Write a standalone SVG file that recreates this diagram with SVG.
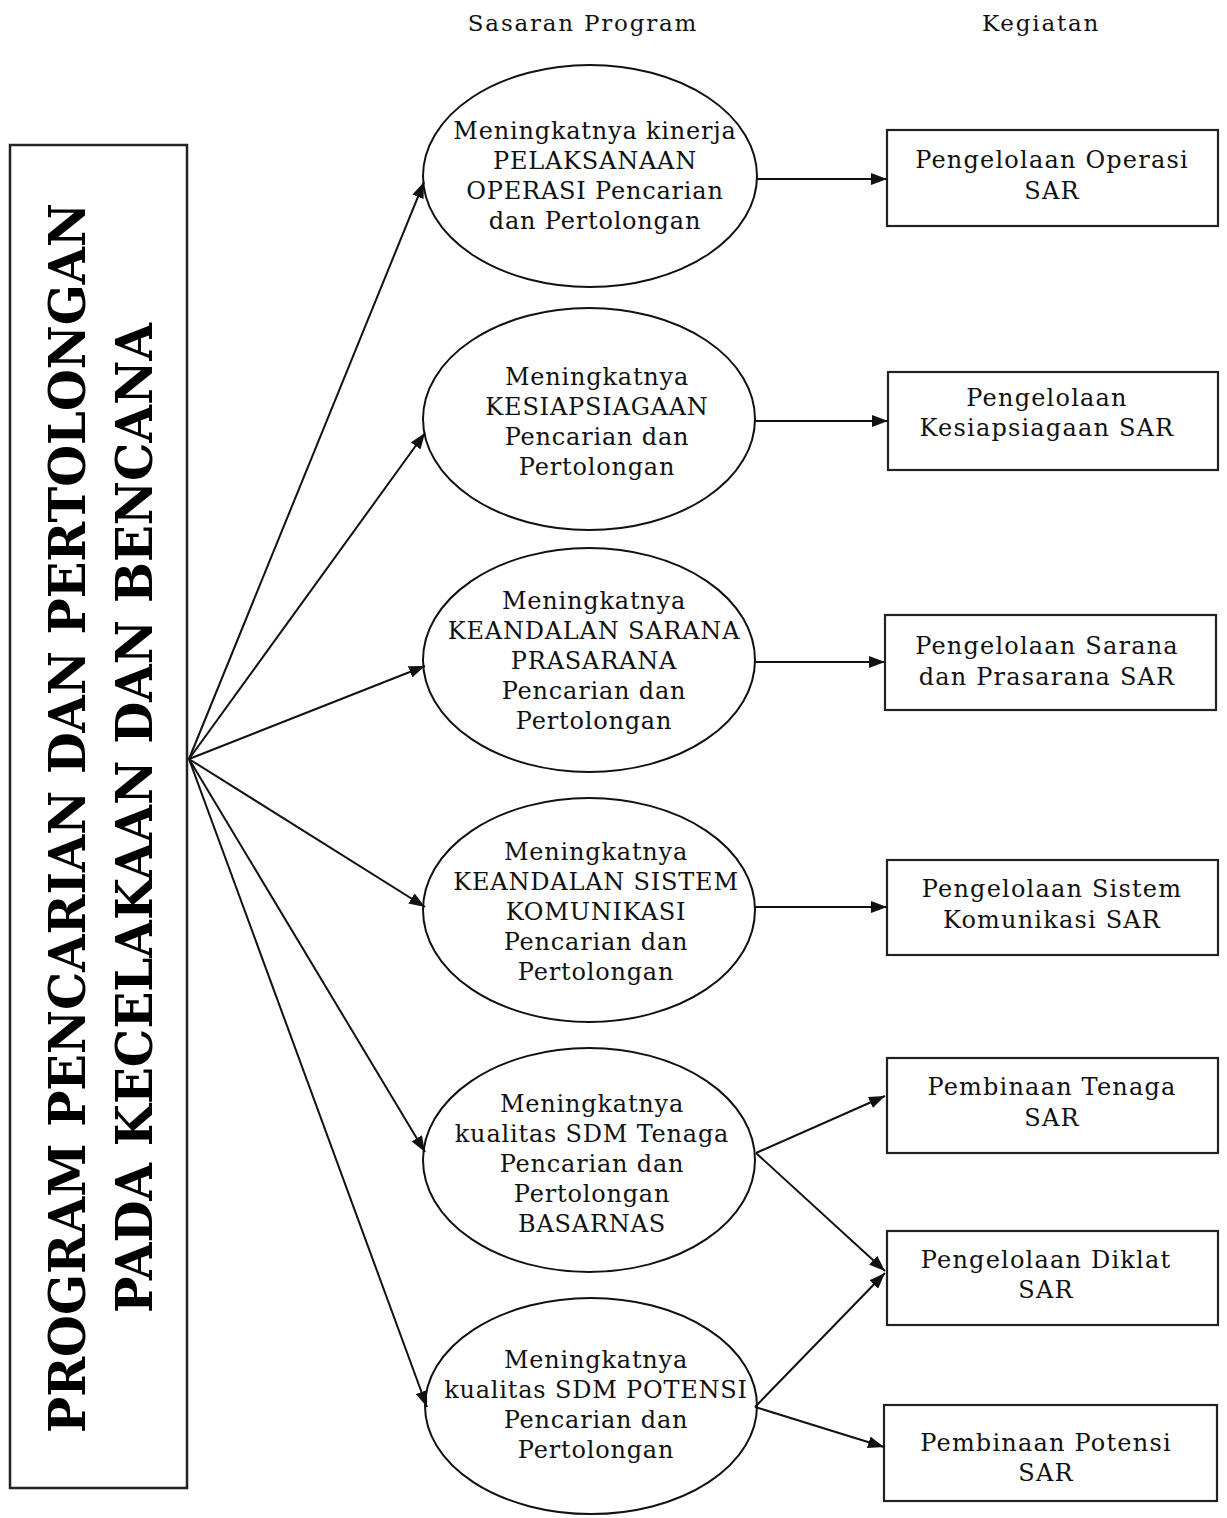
<svg xmlns="http://www.w3.org/2000/svg" width="1227" height="1518" viewBox="0 0 1227 1518">
  <style>
    .bg { fill: #ffffff; }
    .frame { fill: #ffffff; stroke: #222222; stroke-width: 2.5; }
    .goal { fill: #ffffff; stroke: #111111; stroke-width: 2; }
    .act { fill: #ffffff; stroke: #222222; stroke-width: 2.2; }
    .edge { fill: none; stroke: #111111; stroke-width: 2; marker-end: url(#arrow); }
    .head { font-family: "DejaVu Serif", "Liberation Serif", serif; font-size: 23px; letter-spacing: 1.8px; fill: #111111; text-anchor: middle; }
    .title { font-family: "DejaVu Serif", "Liberation Serif", serif; font-size: 51px; font-weight: bold; fill: #000000; text-anchor: middle; }
    .lbl { font-family: "DejaVu Serif", "Liberation Serif", serif; font-size: 24px; letter-spacing: 0.8px; fill: #111111; text-anchor: middle; }
    .lbl2 { font-family: "DejaVu Serif", "Liberation Serif", serif; font-size: 24px; letter-spacing: 1.2px; fill: #111111; text-anchor: middle; }
  </style>
  <defs>
    <marker id="arrow" markerUnits="userSpaceOnUse" markerWidth="16" markerHeight="12" refX="16" refY="6" orient="auto">
      <path d="M0,0 L16,6 L0,12 z" fill="#111111"/>
    </marker>
  </defs>

  <rect class="bg" x="0" y="0" width="1227" height="1518"/>

  <!-- column headings -->
  <g id="headings">
    <text class="head" x="583" y="31">Sasaran Program</text>
    <text class="head" x="1041" y="31">Kegiatan</text>
  </g>

  <!-- program box with vertical title -->
  <g id="program">
    <rect class="frame" x="10" y="145" width="177" height="1343"/>
    <text class="title" transform="translate(85,818) rotate(-90)" x="0" y="0" textLength="1230" lengthAdjust="spacingAndGlyphs">PROGRAM PENCARIAN DAN PERTOLONGAN</text>
    <text class="title" transform="translate(152,818) rotate(-90)" x="0" y="0" textLength="990" lengthAdjust="spacingAndGlyphs">PADA KECELAKAAN DAN BENCANA</text>
  </g>

  <!-- program targets -->
  <g id="goal-operasi">
    <ellipse class="goal" cx="590" cy="176" rx="167" ry="111"/>
    <text class="lbl"><tspan x="595" y="139">Meningkatnya kinerja</tspan><tspan x="595" y="169">PELAKSANAAN</tspan><tspan x="595" y="199">OPERASI Pencarian</tspan><tspan x="595" y="229">dan Pertolongan</tspan></text>
  </g>
  <g id="goal-kesiapsiagaan">
    <ellipse class="goal" cx="589" cy="419" rx="166" ry="111"/>
    <text class="lbl"><tspan x="597" y="385">Meningkatnya</tspan><tspan x="597" y="415">KESIAPSIAGAAN</tspan><tspan x="597" y="445">Pencarian dan</tspan><tspan x="597" y="475">Pertolongan</tspan></text>
  </g>
  <g id="goal-sarana">
    <ellipse class="goal" cx="589" cy="660" rx="166" ry="112"/>
    <text class="lbl"><tspan x="594" y="609">Meningkatnya</tspan><tspan x="594" y="639">KEANDALAN SARANA</tspan><tspan x="594" y="669">PRASARANA</tspan><tspan x="594" y="699">Pencarian dan</tspan><tspan x="594" y="729">Pertolongan</tspan></text>
  </g>
  <g id="goal-komunikasi">
    <ellipse class="goal" cx="589" cy="910" rx="166" ry="112"/>
    <text class="lbl"><tspan x="596" y="860">Meningkatnya</tspan><tspan x="596" y="890">KEANDALAN SISTEM</tspan><tspan x="596" y="920">KOMUNIKASI</tspan><tspan x="596" y="950">Pencarian dan</tspan><tspan x="596" y="980">Pertolongan</tspan></text>
  </g>
  <g id="goal-sdm-tenaga">
    <ellipse class="goal" cx="589" cy="1160" rx="166" ry="112"/>
    <text class="lbl"><tspan x="592" y="1112">Meningkatnya</tspan><tspan x="592" y="1142">kualitas SDM Tenaga</tspan><tspan x="592" y="1172">Pencarian dan</tspan><tspan x="592" y="1202">Pertolongan</tspan><tspan x="592" y="1232">BASARNAS</tspan></text>
  </g>
  <g id="goal-sdm-potensi">
    <ellipse class="goal" cx="591" cy="1406" rx="166" ry="108"/>
    <text class="lbl"><tspan x="596" y="1368">Meningkatnya</tspan><tspan x="596" y="1398">kualitas SDM POTENSI</tspan><tspan x="596" y="1428">Pencarian dan</tspan><tspan x="596" y="1458">Pertolongan</tspan></text>
  </g>

  <!-- activities -->
  <g id="act-operasi">
    <rect class="act" x="887" y="130" width="331" height="96"/>
    <text class="lbl2"><tspan x="1052" y="168">Pengelolaan Operasi</tspan><tspan x="1052" y="199">SAR</tspan></text>
  </g>
  <g id="act-kesiapsiagaan">
    <rect class="act" x="888" y="372" width="330" height="98"/>
    <text class="lbl2"><tspan x="1047" y="406">Pengelolaan</tspan><tspan x="1047" y="436">Kesiapsiagaan SAR</tspan></text>
  </g>
  <g id="act-sarana">
    <rect class="act" x="885" y="615" width="331" height="95"/>
    <text class="lbl2"><tspan x="1047" y="654">Pengelolaan Sarana</tspan><tspan x="1047" y="685">dan Prasarana SAR</tspan></text>
  </g>
  <g id="act-komunikasi">
    <rect class="act" x="887" y="860" width="331" height="95"/>
    <text class="lbl2"><tspan x="1052" y="897">Pengelolaan Sistem</tspan><tspan x="1052" y="928">Komunikasi SAR</tspan></text>
  </g>
  <g id="act-tenaga">
    <rect class="act" x="887" y="1058" width="331" height="95"/>
    <text class="lbl2"><tspan x="1052" y="1095">Pembinaan Tenaga</tspan><tspan x="1052" y="1126">SAR</tspan></text>
  </g>
  <g id="act-diklat">
    <rect class="act" x="887" y="1231" width="331" height="94"/>
    <text class="lbl2"><tspan x="1046" y="1268">Pengelolaan Diklat</tspan><tspan x="1046" y="1298">SAR</tspan></text>
  </g>
  <g id="act-potensi">
    <rect class="act" x="884" y="1405" width="333" height="96"/>
    <text class="lbl2"><tspan x="1046" y="1451">Pembinaan Potensi</tspan><tspan x="1046" y="1481">SAR</tspan></text>
  </g>

  <!-- connectors -->
  <g id="connectors">
    <line class="edge" x1="189" y1="759" x2="424" y2="182"/>
    <line class="edge" x1="189" y1="759" x2="425" y2="433"/>
    <line class="edge" x1="189" y1="759" x2="425" y2="666"/>
    <line class="edge" x1="189" y1="759" x2="425" y2="907"/>
    <line class="edge" x1="189" y1="759" x2="425" y2="1152"/>
    <line class="edge" x1="189" y1="759" x2="427" y2="1407"/>

    <line class="edge" x1="757" y1="179" x2="887" y2="179"/>
    <line class="edge" x1="755" y1="421" x2="888" y2="421"/>
    <line class="edge" x1="755" y1="662" x2="885" y2="662"/>
    <line class="edge" x1="755" y1="907" x2="887" y2="907"/>

    <line class="edge" x1="756" y1="1153" x2="885" y2="1096"/>
    <line class="edge" x1="756" y1="1153" x2="885" y2="1271"/>
    <line class="edge" x1="755" y1="1407" x2="885" y2="1273"/>
    <line class="edge" x1="755" y1="1407" x2="884" y2="1447"/>
  </g>
</svg>
